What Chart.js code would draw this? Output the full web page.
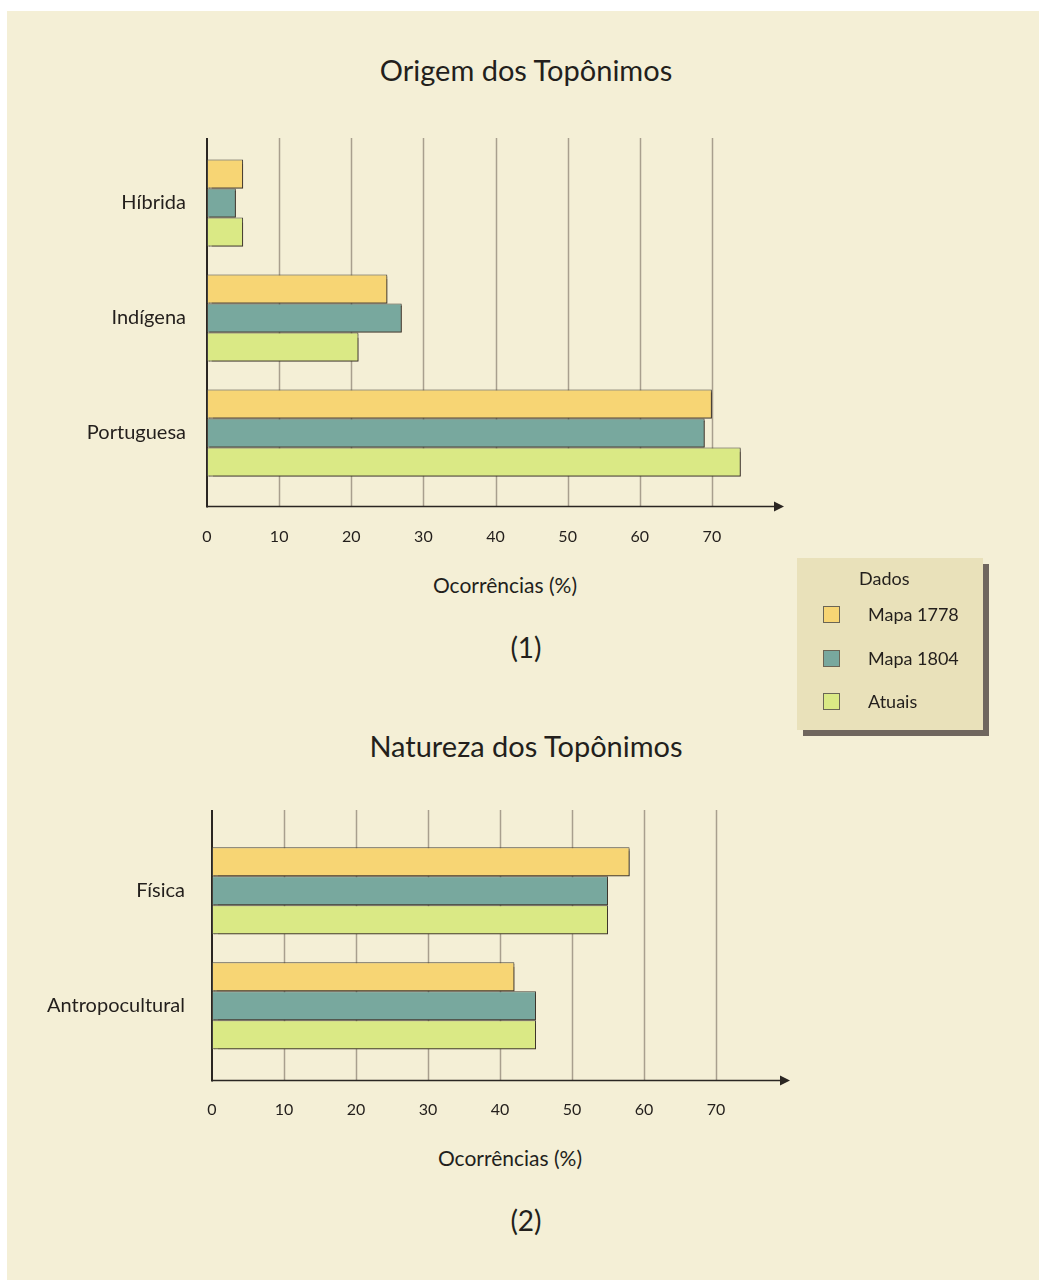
<!DOCTYPE html>
<html>
<head>
<meta charset="utf-8">
<script src="https://cdn.jsdelivr.net/npm/chart.js@4"></script>
<style>
  html, body { margin: 0; padding: 0; background: #ffffff; width: 1039px; height: 1280px; overflow: hidden; font-family: Lato, "Open Sans", sans-serif; color: #231f1c; }
  #panel { position: absolute; left: 7px; top: 11px; width: 1032px; height: 1269px; background: #F4EFD6; }
  .txt { position: absolute; text-align: center; white-space: nowrap; line-height: 1; }
  canvas { position: absolute; left: 0; }
  #legend { position: absolute; left: 797px; top: 558px; width: 186px; height: 172px; background: #E9E1BA; box-shadow: 6px 6px 0 #6F665E; }
  .sw { position: absolute; left: 26px; width: 15px; height: 15px; border: 1px solid #6a6555; }
  .lt { position: absolute; left: 71px; font-size: 18px; line-height: 1; }
</style>
</head>
<body>
<div id="panel"></div>

<div class="txt" style="left:226px;width:600px;top:55px;font-size:29px;">Origem dos Topônimos</div>
<div class="txt" style="left:305px;width:400px;top:574px;font-size:21px;">Ocorrências (%)</div>
<div class="txt" style="left:426px;width:200px;top:633px;font-size:28px;">(1)</div>

<div class="txt" style="left:226px;width:600px;top:731px;font-size:29px;">Natureza dos Topônimos</div>
<div class="txt" style="left:310px;width:400px;top:1147px;font-size:21px;">Ocorrências (%)</div>
<div class="txt" style="left:426px;width:200px;top:1206px;font-size:28px;">(2)</div>

<canvas id="c1" width="1039" height="640" style="top:0px;"></canvas>
<canvas id="c2" width="1039" height="620" style="top:660px;"></canvas>

<div id="legend"></div>

<script>
// ---------- data ----------
const seriesNames = ['Mapa 1778', 'Mapa 1804', 'Atuais'];
const seriesColors = ['#F7D574', '#78A89E', '#DAE985'];

const origemCategories = ['Híbrida', 'Indígena', 'Portuguesa'];
const origemMapa1778 = [5, 25, 70];
const origemMapa1804 = [4, 27, 69];
const origemAtuais = [5, 21, 74];

const naturezaCategories = ['Física', 'Antropocultural'];
const naturezaMapa1778 = [58, 42];
const naturezaMapa1804 = [55, 45];
const naturezaAtuais = [55, 45];

const tickValues = [0, 10, 20, 30, 40, 50, 60, 70];
const legendTitle = 'Dados';

// ---------- decoration plugin (grid, axes, arrow, bar shadows) ----------
const decoPlugin = {
  id: 'deco',
  beforeDatasetsDraw(chart, args, opts) {
    const ctx = chart.ctx;
    const xs = chart.scales.x;
    const x0 = xs.getPixelForValue(0);
    ctx.save();
    ctx.strokeStyle = '#A89F8E';
    ctx.lineWidth = 1.5;
    tickValues.forEach(v => {
      if (v === 0) return;
      const px = Math.round(xs.getPixelForValue(v)) + 0.5;
      ctx.beginPath();
      ctx.moveTo(px, opts.gridTop);
      ctx.lineTo(px, opts.axisY);
      ctx.stroke();
    });
    ctx.strokeStyle = '#2a2622';
    ctx.lineWidth = 2;
    ctx.beginPath();
    ctx.moveTo(x0, opts.gridTop);
    ctx.lineTo(x0, opts.axisY + 1);
    ctx.stroke();
    const tip = opts.arrowTip;
    ctx.lineWidth = 1.5;
    ctx.beginPath();
    ctx.moveTo(x0, opts.axisY);
    ctx.lineTo(tip - 8, opts.axisY);
    ctx.stroke();
    ctx.fillStyle = '#2a2622';
    ctx.beginPath();
    ctx.moveTo(tip, opts.axisY);
    ctx.lineTo(tip - 10, opts.axisY - 5);
    ctx.lineTo(tip - 10, opts.axisY + 5);
    ctx.closePath();
    ctx.fill();
    ctx.restore();
  },
  beforeDatasetDraw(chart) {
    const ctx = chart.ctx;
    ctx.save();
    ctx.shadowColor = 'rgba(60,50,40,0.8)';
    ctx.shadowOffsetX = 2;
    ctx.shadowOffsetY = 2;
    ctx.shadowBlur = 1;
  },
  afterDatasetDraw(chart) {
    chart.ctx.restore();
  }
};

function makeDatasets(arrs) {
  return arrs.map((d, i) => ({
    label: seriesNames[i],
    data: d,
    backgroundColor: seriesColors[i],
    borderColor: '#45423b',
    borderWidth: 1,
    borderSkipped: false,
    barPercentage: 1.0,
    categoryPercentage: 0.757
  }));
}

function makeChart(id, cats, arrs, cfg) {
  return new Chart(document.getElementById(id), {
    type: 'bar',
    data: { labels: cats, datasets: makeDatasets(arrs) },
    plugins: [decoPlugin],
    options: {
      indexAxis: 'y',
      responsive: false,
      animation: false,
      events: [],
      layout: { padding: { top: cfg.top, right: cfg.right, left: 0, bottom: 0 } },
      plugins: {
        legend: { display: false },
        tooltip: { enabled: false },
        title: { display: false },
        deco: { gridTop: cfg.gridTop, axisY: cfg.axisY, arrowTip: cfg.arrowTip }
      },
      scales: {
        x: {
          type: 'linear',
          min: 0,
          max: 80,
          border: { display: false },
          grid: { display: false, drawTicks: false },
          afterFit: s => { s.height = cfg.xHeight; },
          afterBuildTicks: s => { s.ticks = tickValues.map(v => ({ value: v })); },
          ticks: {
            padding: cfg.tickPad,
            color: '#231f1c',
            font: { family: 'Lato', size: 16 },
            maxRotation: 0,
            autoSkip: false
          }
        },
        y: {
          type: 'category',
          offset: true,
          border: { display: false },
          grid: { display: false, drawTicks: false },
          afterFit: s => { s.width = cfg.left; },
          ticks: {
            padding: cfg.labelPad,
            color: '#231f1c',
            font: { family: 'Lato', size: 20 }
          }
        }
      }
    }
  });
}

makeChart('c1', origemCategories, [origemMapa1778, origemMapa1804, origemAtuais], {
  top: 145.5, right: 1039 - 784, left: 207, xHeight: 640 - 490.5,
  tickPad: 37, labelPad: 21, gridTop: 138, axisY: 506.5, arrowTip: 784
});

makeChart('c2', naturezaCategories, [naturezaMapa1778, naturezaMapa1804, naturezaAtuais], {
  top: 173.3, right: 1039 - 788, left: 212, xHeight: 620 - 403.3,
  tickPad: 37, labelPad: 27, gridTop: 150, axisY: 420.5, arrowTip: 790
});

// ---------- legend ----------
const lg = document.getElementById('legend');
const t = document.createElement('div');
t.className = 'lt';
t.style.left = '62px';
t.style.top = '11px';
t.textContent = legendTitle;
lg.appendChild(t);
seriesNames.forEach((n, i) => {
  const s = document.createElement('div');
  s.className = 'sw';
  s.style.top = (48 + i * 43.5) + 'px';
  s.style.background = seriesColors[i];
  lg.appendChild(s);
  const l = document.createElement('div');
  l.className = 'lt';
  l.style.top = (47 + i * 43.5) + 'px';
  l.textContent = n;
  lg.appendChild(l);
});
</script>
</body>
</html>
